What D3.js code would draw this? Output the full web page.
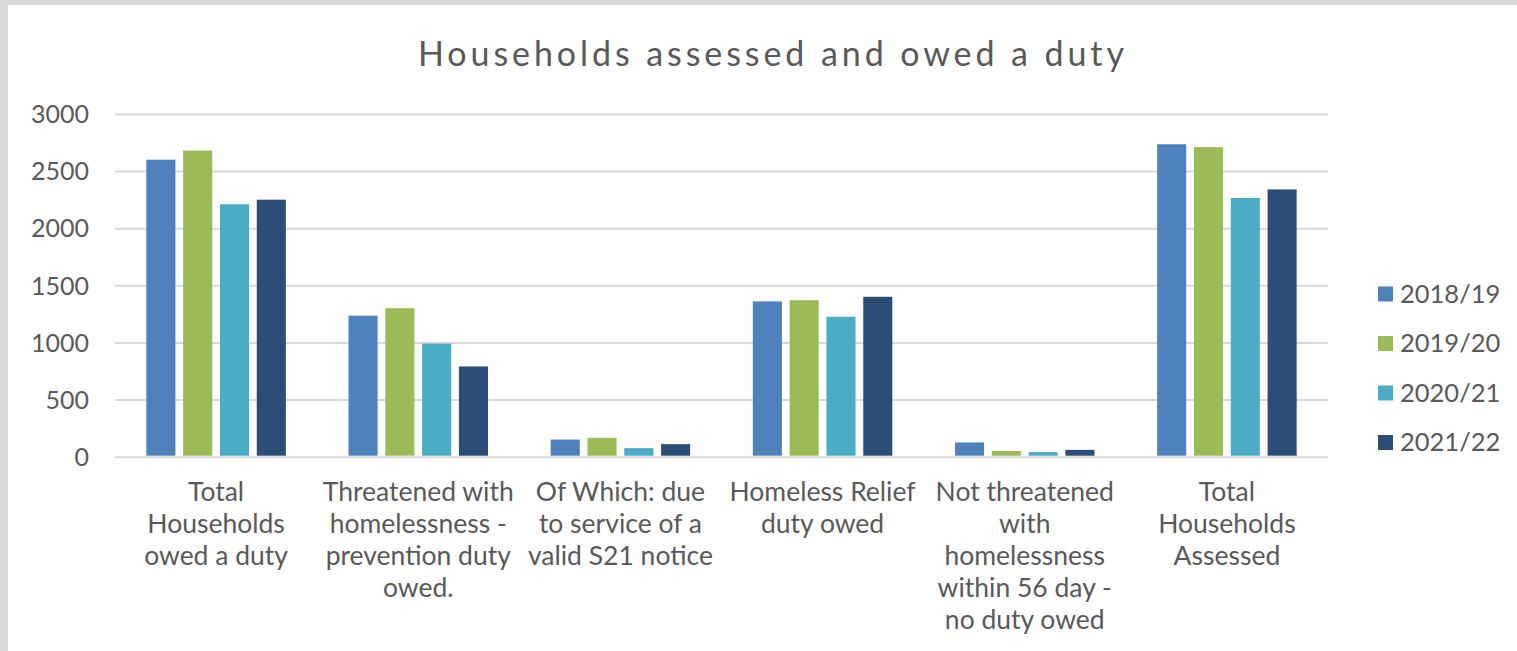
<!DOCTYPE html>
<html><head><meta charset="utf-8">
<script src="https://cdn.jsdelivr.net/npm/d3@7"></script>
<style>
html,body{margin:0;padding:0;background:#d9d9d9;}
svg{display:block;}
</style></head>
<body>
<svg id="chart" width="1517" height="651"></svg>
<script>
const categories = [
  "Total\nHouseholds\nowed a duty",
  "Threatened with\nhomelessness -\nprevention duty\nowed.",
  "Of Which: due\nto service of a\nvalid S21 notice",
  "Homeless Relief\nduty owed",
  "Not threatened\nwith\nhomelessness\nwithin 56 day -\nno duty owed",
  "Total\nHouseholds\nAssessed"
];
const seriesNames = ["2018/19", "2019/20", "2020/21", "2021/22"];
const values2018 = [2600, 1235, 150, 1360, 125, 2735];
const values2019 = [2680, 1300, 165, 1370, 50, 2710];
const values2020 = [2210, 990, 75, 1225, 40, 2265];
const values2021 = [2250, 790, 110, 1400, 60, 2340];
const seriesValues = [values2018, values2019, values2020, values2021];
const colors = ["#4f81bd", "#9bbb59", "#4bacc6", "#2c4d75"];
const yTicks = [0, 500, 1000, 1500, 2000, 2500, 3000];
const title = "Households assessed and owed a duty";

const svg = d3.select("#chart");
const font = "Lato, 'Open Sans', sans-serif";
const textColor = "#595959";

// white chart area
svg.append("rect").attr("x", 8).attr("y", 5).attr("width", 1517 - 8).attr("height", 651 - 5).attr("fill", "#ffffff");

const plotLeft = 115, plotRight = 1328, plotTop = 114, plotBottom = 456.7;

const x0 = d3.scaleBand().domain(d3.range(categories.length)).range([plotLeft, plotRight]).paddingInner(0).paddingOuter(0);
const groupW = x0.bandwidth() * 0.69;
const x1 = d3.scaleBand().domain(d3.range(seriesNames.length)).range([0, groupW]).paddingInner(0.21).paddingOuter(0);
const y = d3.scaleLinear().domain([0, 3000]).range([plotBottom, plotTop]);

// gridlines
const yAxis = d3.axisLeft(y).tickValues(yTicks).tickSize(-(plotRight - plotLeft)).tickPadding(26).tickFormat(d3.format("d"));
const gAxis = svg.append("g").attr("transform", `translate(${plotLeft},0)`).call(yAxis);
gAxis.select(".domain").remove();
gAxis.selectAll(".tick line").attr("stroke", "#d9d9d9").attr("stroke-width", 2);
gAxis.selectAll(".tick text").attr("fill", textColor).style("font-family", font).style("font-size", "25px").attr("dy", "0.35em");

// bars
const groups = svg.append("g").selectAll("g")
  .data(categories.map((c, i) => i))
  .join("g")
  .attr("transform", i => `translate(${x0(i) + (x0.bandwidth() - groupW) / 2},0)`);
groups.selectAll("rect")
  .data(i => seriesValues.map((vals, s) => ({s, v: vals[i]})))
  .join("rect")
  .attr("x", d => x1(d.s))
  .attr("width", x1.bandwidth())
  .attr("y", d => y(d.v))
  .attr("height", d => y(0) - y(d.v) - 1)
  .attr("fill", d => colors[d.s]);

// category labels
const labelG = svg.append("g");
categories.forEach((c, i) => {
  const t = labelG.append("text")
    .attr("x", x0(i) + x0.bandwidth() / 2)
    .attr("y", 501)
    .attr("text-anchor", "middle")
    .attr("fill", textColor)
    .style("font-family", font)
    .style("font-size", "26.5px");
  c.split("\n").forEach((line, k) => {
    t.append("tspan").attr("x", x0(i) + x0.bandwidth() / 2).attr("dy", k === 0 ? 0 : 32).text(line);
  });
});

// title
svg.append("text")
  .attr("x", 771).attr("y", 66)
  .attr("text-anchor", "middle")
  .attr("fill", textColor)
  .style("font-family", font)
  .style("font-size", "34px")
  .attr("textLength", 706)
  .attr("lengthAdjust", "spacing")
  .text(title);

// legend
const legend = svg.append("g");
seriesNames.forEach((name, s) => {
  const cy = 294 + s * 49.5;
  legend.append("rect").attr("x", 1378).attr("y", cy - 7.5).attr("width", 15).attr("height", 15).attr("fill", colors[s]);
  legend.append("text").attr("x", 1400).attr("y", cy).attr("dy", "0.35em")
    .attr("fill", textColor).style("font-family", font).style("font-size", "25.5px").text(name);
});
</script>
</body></html>
